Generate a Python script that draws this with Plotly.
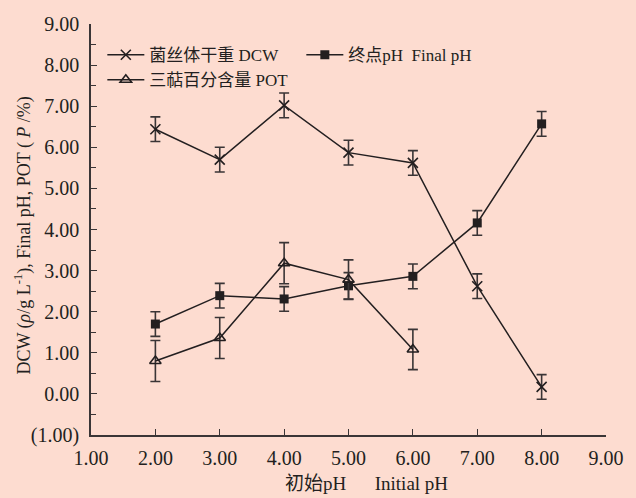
import plotly.graph_objects as go

initial_ph = [2, 3, 4, 5, 6, 7, 8]
dcw = [6.44, 5.70, 7.02, 5.87, 5.62, 2.62, 0.17]
dcw_err = [0.30, 0.30, 0.30, 0.30, 0.30, 0.30, 0.30]
final_ph = [1.70, 2.39, 2.31, 2.63, 2.86, 4.16, 6.57]
final_ph_err = [0.30, 0.30, 0.30, 0.32, 0.30, 0.30, 0.30]
pot_x = [2, 3, 4, 5, 6]
pot = [0.80, 1.36, 3.18, 2.78, 1.08]
pot_err = [0.50, 0.50, 0.50, 0.48, 0.49]

x_ticks = [1, 2, 3, 4, 5, 6, 7, 8, 9]
x_ticktext = ["1.00", "2.00", "3.00", "4.00", "5.00", "6.00", "7.00", "8.00", "9.00"]
y_ticks = [-1, 0, 1, 2, 3, 4, 5, 6, 7, 8, 9]
y_ticktext = ["(1.00)", "0.00", "1.00", "2.00", "3.00", "4.00", "5.00", "6.00", "7.00", "8.00", "9.00"]

ink = "#231f20"
axc = "#3a3536"
bg = "#fddcd0"
serif = "Liberation Serif, Noto Sans CJK SC, serif"

def ebar(err):
    return dict(type="data", array=err, visible=True, color=axc, thickness=1.6, width=5)

fig = go.Figure()
fig.add_trace(go.Scatter(
    x=initial_ph, y=dcw, name="菌丝体干重 DCW", mode="lines+markers",
    line=dict(color=ink, width=1.5),
    marker=dict(symbol="x-thin-open", size=10, color=ink, line=dict(color=ink, width=1.6)),
    error_y=ebar(dcw_err),
))
fig.add_trace(go.Scatter(
    x=initial_ph, y=final_ph, name="终点pH  Final pH", mode="lines+markers",
    line=dict(color=ink, width=1.5),
    marker=dict(symbol="square", size=9, color=ink),
    error_y=ebar(final_ph_err),
))
fig.add_trace(go.Scatter(
    x=pot_x, y=pot, name="三萜百分含量 POT", mode="lines+markers",
    line=dict(color=ink, width=1.5),
    marker=dict(symbol="triangle-up-open", size=10, color=ink, line=dict(color=ink, width=1.6)),
    error_y=ebar(pot_err),
))

fig.update_layout(
    width=636, height=498,
    paper_bgcolor=bg, plot_bgcolor=bg,
    margin=dict(l=91, r=20, t=24, b=63),
    font=dict(family=serif, size=18, color=ink),
    showlegend=True,
    legend=dict(
        orientation="h", x=0.022, y=0.968, xanchor="left", yanchor="top",
        bgcolor="rgba(0,0,0,0)", font=dict(size=17, family=serif),
        entrywidth=147, entrywidthmode="pixels", itemwidth=37,
        tracegroupgap=0,
    ),
    xaxis=dict(
        range=[1, 9], tickvals=x_ticks, ticktext=x_ticktext,
        showgrid=False, zeroline=False, showline=True, linecolor=axc, linewidth=1.6,
        ticks="inside", ticklen=6, tickwidth=1.4, tickcolor=axc,
        tickfont=dict(size=20, family=serif), ticklabelstandoff=4,
    ),
    yaxis=dict(
        range=[-1, 9], tickvals=y_ticks, ticktext=y_ticktext,
        showgrid=False, zeroline=False, showline=True, linecolor=axc, linewidth=1.6,
        ticks="inside", ticklen=6, tickwidth=1.4, tickcolor=axc,
        tickfont=dict(size=20, family=serif), ticklabelstandoff=6,
        minor=dict(dtick=0.5, ticks="inside", ticklen=5, tickwidth=1.2, tickcolor=axc),
    ),
    annotations=[
        dict(text="初始pH\u00a0\u00a0\u00a0\u00a0\u00a0\u00a0Initial pH", xref="paper", yref="paper",
             x=0.534, y=-0.118, xanchor="center", yanchor="middle", showarrow=False,
             font=dict(size=19, family=serif)),
        dict(text="DCW (<i>ρ</i>/g L<sup>-1</sup>), Final pH, POT ( <i>P</i> /%)",
             xref="paper", yref="paper", x=-0.131, y=0.484, textangle=-90,
             xanchor="center", yanchor="middle", showarrow=False, font=dict(size=18, family=serif)),
    ],
)

fig.write_html("out.html")
